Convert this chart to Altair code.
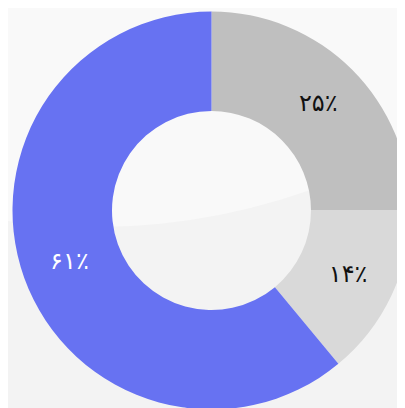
import altair as alt
import pandas as pd

# Data
categories = ["الف", "ب", "ج"]
labels = ["۲۵٪", "۱۴٪", "۶۱٪"]
values = [25, 14, 61]
slice_order = [0, 1, 2]
colors = ["#bfbfbf", "#d9d9d9", "#6772f2"]
text_colors = ["#111111", "#111111", "#ffffff"]

df = pd.DataFrame({
    "cat": categories,
    "label": labels,
    "value": values,
    "order": slice_order,
    "tc": text_colors,
})

# Layout constants (donut centre is to the right of the visible area's middle)
CX, CY = 203.5, 202.5

# Decorative background highlight (a large, light circle)
hl = pd.DataFrame({"k": [0]})
HL_R = 638
highlight = alt.Chart(hl).mark_circle(
    size=(2 * HL_R) ** 2, color="#f9f9f9", opacity=1
).encode(x=alt.value(88), y=alt.value(-419))

base = alt.Chart(df).encode(
    theta=alt.Theta("value:Q", stack=True),
    order=alt.Order("order:Q"),
    x=alt.value(CX),
    y=alt.value(CY),
)

arcs = base.mark_arc(innerRadius=99.5, outerRadius=199).encode(
    color=alt.Color("cat:N", scale=alt.Scale(domain=categories, range=colors), legend=None)
)

text = base.mark_text(radius=151, fontSize=24, font="DejaVu Sans").encode(
    text="label:N",
    color=alt.Color("tc:N", scale=None),
)

chart = alt.layer(highlight, arcs, text).resolve_scale(color="independent").properties(
    width=389,
    height=400,
    padding=0,
    autosize=alt.AutoSizeParams(type="none"),
    background="#f3f3f3",
).configure_view(stroke=None)

chart.save("out.html", embed_options={"renderer": "svg", "actions": False})
